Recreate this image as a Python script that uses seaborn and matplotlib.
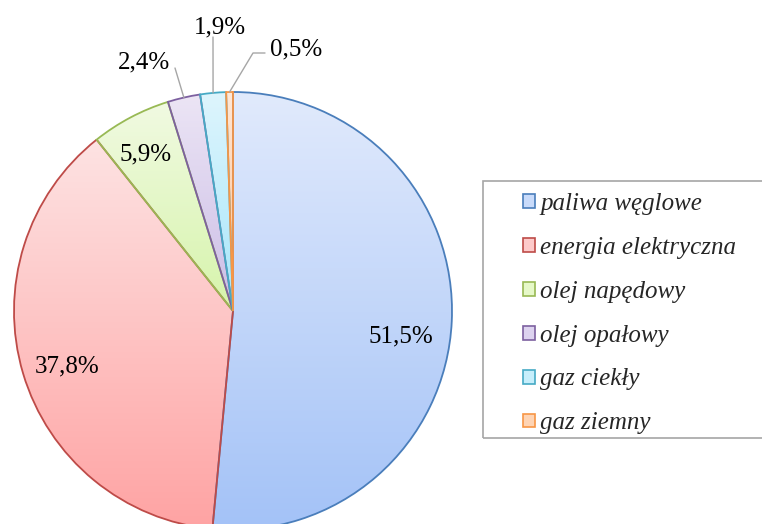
import numpy as np
import matplotlib
matplotlib.use('Agg')
import matplotlib.pyplot as plt
import seaborn as sns
from matplotlib.patches import Patch, Rectangle
from matplotlib.colors import to_rgb

categories = ['paliwa węglowe', 'energia elektryczna', 'olej napędowy',
              'olej opałowy', 'gaz ciekły', 'gaz ziemny']
shares = [51.5, 37.8, 5.9, 2.4, 1.9, 0.5]

edge_colors = ['#4a7ebb', '#be4b48', '#98b954', '#7d60a0', '#46aac5', '#f79646']
top_colors = ['#e1eafc', '#fde3e3', '#f1fae2', '#ece5f5', '#def5fd', '#fee8d8']
bottom_colors = ['#a3c2f7', '#ffa3a3', '#d6f4ab', '#cbbde6', '#a6e6fa', '#ffbe8c']
legend_fill = ['#c9dbfa', '#fdcaca', '#e6f8c8', '#ddd3ef', '#c6eefb', '#fed4b4']

sns.set_theme(style='white')
plt.rcParams['font.family'] = ['Liberation Serif', 'DejaVu Serif']

W, H = 762, 524
fig = plt.figure(figsize=(W / 100, H / 100), dpi=100)
ax = fig.add_axes([0, 0, 1, 1])
cx, cy, R = 233, H - 311, 219

wedges, _ = ax.pie(shares, startangle=90, counterclock=False, center=(cx, cy),
                   radius=R, wedgeprops=dict(linewidth=1.3, facecolor='none'))
for w, ec in zip(wedges, edge_colors):
    w.set_edgecolor(ec)
    w.set_zorder(2)

# vertical gradient fill per slice
for w, t, b in zip(wedges, top_colors, bottom_colors):
    v = w.get_path().vertices
    x0, x1 = v[:, 0].min(), v[:, 0].max()
    y0, y1 = v[:, 1].min(), v[:, 1].max()
    frac = np.linspace(0, 1, 256)[:, None]
    img = (np.array(to_rgb(t)) * (1 - frac) + np.array(to_rgb(b)) * frac)[:, None, :]
    im = ax.imshow(img, extent=(x0, x1, y0, y1), origin='upper', aspect='auto',
                   zorder=1, interpolation='bilinear')
    im.set_clip_path(w)

ax.set_xlim(0, W)
ax.set_ylim(0, H)
ax.set_aspect('auto')
ax.axis('off')

# percentage labels (baseline positions, image pixel coords)
label_pos = [(401, 342), (67, 372), (146, 160), (144, 68), (220, 33), (296, 55)]
for val, (lx, ly) in zip(shares, label_pos):
    ax.text(lx, H - ly, f'{val:.1f}%'.replace('.', ','), ha='center', va='baseline',
            fontsize=18, color='#000000', zorder=5)

# leader lines for small slices
leader_paths = {3: [(175, 68)], 4: [(213, 37)], 5: [(253, 53), (265, 53)]}
for i, pts in leader_paths.items():
    w = wedges[i]
    th = np.deg2rad((w.theta1 + w.theta2) / 2)
    xs = [cx + R * np.cos(th)] + [p[0] for p in pts]
    ys = [cy + R * np.sin(th)] + [H - p[1] for p in pts]
    ax.plot(xs, ys, color='#a6a6a6', lw=1.0, zorder=3)

# legend frame
ax.add_patch(Rectangle((483, H - 438), 400, 257, facecolor='none',
                       edgecolor='#a6a6a6', lw=1.2, zorder=3, clip_on=False))

handles = [Patch(facecolor=f, edgecolor=e, lw=1.2) for f, e in zip(legend_fill, edge_colors)]
fs = 18
px = fs * 100 / 72
leg = ax.legend(handles, categories, loc='upper left', bbox_to_anchor=(523, H - 193),
                bbox_transform=ax.transData, frameon=False, borderpad=0, borderaxespad=0,
                prop=dict(family='Liberation Serif', style='italic', size=fs),
                handlelength=12 / px, handleheight=12 / px, handletextpad=5 / px,
                labelspacing=0.875)

fig.savefig('out.png', dpi=100)
